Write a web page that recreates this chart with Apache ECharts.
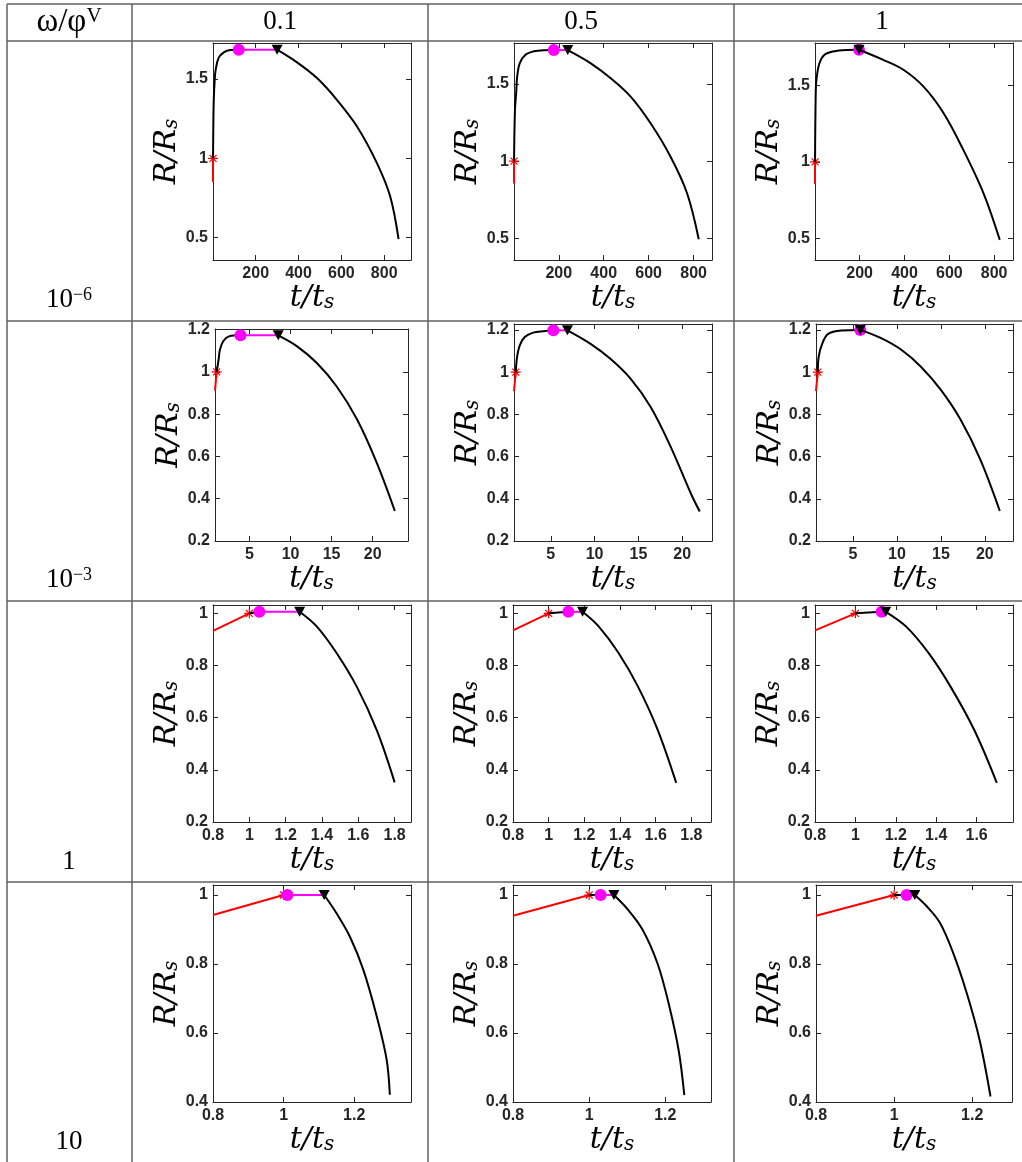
<!DOCTYPE html>
<html lang="en">
<head>
<meta charset="UTF-8" />
<title>R/Rs vs t/ts</title>
<script src="https://cdn.jsdelivr.net/npm/echarts@6/dist/echarts.min.js"></script>
<style>html,body{margin:0;padding:0;background:#fff;}</style>
</head>
<body>
<div id="main" style="width:1022px;height:1162px;"></div>
<script>
// table heads
var colHeads = ['0.1', '0.5', '1'];
var rowBase = ['10', '10', '1', '10'];
var rowExp = ['−6', '−3', '', ''];

// axis ranges, one entry per panel (row by row)
var xMax = [925, 882, 884, 24.3, 23.4, 23.2, 1.89, 1.91, 1.78, 1.361, 1.32, 1.302];
var yMin = [0.359, 0.359, 0.358, 0.2, 0.2, 0.2, 0.2, 0.2, 0.2, 0.4, 0.4, 0.4];
var yMax = [1.727, 1.766, 1.778, 1.203, 1.228, 1.228, 1.032, 1.032, 1.032, 1.029, 1.029, 1.029];
// tick values per row
var xTicks = [[200, 400, 600, 800], [5, 10, 15, 20], [0.8, 1, 1.2, 1.4, 1.6, 1.8], [0.8, 1, 1.2]];
var yTicks = [[0.5, 1, 1.5], [0.2, 0.4, 0.6, 0.8, 1, 1.2], [0.2, 0.4, 0.6, 0.8, 1], [0.4, 0.6, 0.8, 1]];

// red branch: start point, ends at the star (1, 1)
var redStart = [[0.8, 0.85], [0.8, 0.855], [0.8, 0.855], [0.8, 0.912], [0.8, 0.91], [0.8, 0.91],
  [0.8, 0.933], [0.8, 0.935], [0.8, 0.935], [0.8, 0.942], [0.8, 0.94], [0.8, 0.94]];
// magenta circle and black triangle
var circlePts = [[121, 1.685], [178, 1.72], [197, 1.734], [3.9, 1.173], [5.29, 1.198], [5.83, 1.2],
  [1.055, 1.006], [1.11, 1.006], [1.13, 1.006], [1.011, 1.0], [1.03, 1.0], [1.032, 1.0]];
var trianglePts = [[300, 1.685], [240, 1.72], [197, 1.734], [8.5, 1.173], [6.9, 1.198], [5.83, 1.2],
  [1.277, 1.006], [1.19, 1.006], [1.15, 1.006], [1.115, 1.0], [1.065, 1.0], [1.053, 1.0]];

// black branch before the circle
var rise11 = [[1, 1], [4, 1.35], [8.7, 1.496], [13.4, 1.559], [27, 1.633], [51, 1.668], [82, 1.683], [121, 1.685]];
var rise12 = [[1, 1], [5, 1.33], [10.5, 1.442], [15, 1.549], [26.6, 1.636], [52, 1.69], [89, 1.712], [133, 1.719], [178, 1.72]];
var rise13 = [[1, 1], [4.4, 1.472], [8.9, 1.559], [21, 1.647], [43, 1.701], [80.5, 1.723], [140, 1.733], [197, 1.734]];
var rise21 = [[1, 1], [1.24, 1.058], [1.4, 1.105], [1.8, 1.145], [2.5, 1.168], [3.9, 1.173]];
var rise22 = [[1, 1], [1.15, 1.071], [1.46, 1.127], [2.03, 1.166], [2.99, 1.187], [4.14, 1.194], [5.29, 1.198]];
var rise23 = [[1, 1], [1.11, 1.074], [1.53, 1.137], [2.18, 1.181], [3.68, 1.197], [5.83, 1.2]];
var rise31 = [[1, 1], [1.055, 1.006]];
var rise32 = [[1, 1], [1.11, 1.006]];
var rise33 = [[1, 1], [1.13, 1.006]];
var rise41 = [[1, 1], [1.011, 1.0]];
var rise42 = [[1, 1], [1.03, 1.0]];
var rise43 = [[1, 1], [1.032, 1.0]];

// black branch after the triangle
var fall11 = [[300, 1.685], [393, 1.605], [486, 1.506], [579, 1.369], [673, 1.201], [766, 0.97], [828, 0.759], [867, 0.49]];
var fall12 = [[240, 1.72], [341, 1.636], [430, 1.539], [519, 1.42], [608, 1.247], [697, 1.03], [771, 0.792], [823, 0.494]];
var fall13 = [[197, 1.734], [305, 1.668], [395, 1.603], [484, 1.494], [574, 1.32], [663, 1.077], [753, 0.793], [825, 0.49]];
var fall21 = [[8.5, 1.173], [10.8, 1.121], [13.2, 1.042], [15.6, 0.932], [18.1, 0.775], [20.5, 0.57], [22.7, 0.342]];
var fall22 = [[6.9, 1.198], [9.5, 1.135], [11.8, 1.063], [14.1, 0.969], [16.4, 0.835], [18.7, 0.645], [21, 0.424], [22, 0.34]];
var fall23 = [[5.83, 1.2], [8.2, 1.161], [10.5, 1.106], [12.7, 1.027], [15, 0.916], [17.25, 0.774], [19.5, 0.584], [21.7, 0.342]];
var fall31 = [[1.277, 1.006], [1.372, 0.949], [1.482, 0.846], [1.592, 0.718], [1.702, 0.551], [1.8, 0.352]];
var fall32 = [[1.19, 1.006], [1.28, 0.95], [1.39, 0.85], [1.5, 0.72], [1.61, 0.555], [1.715, 0.35]];
var fall33 = [[1.15, 1.006], [1.25, 0.95], [1.36, 0.85], [1.47, 0.72], [1.59, 0.55], [1.7, 0.35]];
var fall41 = [[1.115, 1.0], [1.15, 0.947], [1.188, 0.879], [1.226, 0.783], [1.264, 0.648], [1.292, 0.523], [1.301, 0.421]];
var fall42 = [[1.065, 1.0], [1.1, 0.96], [1.14, 0.9], [1.18, 0.8], [1.21, 0.68], [1.235, 0.55], [1.25, 0.42]];
var fall43 = [[1.053, 1.0], [1.083, 0.968], [1.117, 0.92], [1.151, 0.833], [1.186, 0.716], [1.219, 0.58], [1.247, 0.416]];

var rises = [rise11, rise12, rise13, rise21, rise22, rise23, rise31, rise32, rise33, rise41, rise42, rise43];
var falls = [fall11, fall12, fall13, fall21, fall22, fall23, fall31, fall32, fall33, fall41, fall42, fall43];

// plot boxes in px: left, top, width, height
var boxes = [
  [213, 43, 198, 217], [514, 43, 198, 217], [815, 43, 198, 217],
  [215, 329, 193, 212], [514, 324, 198, 217], [816, 324, 197, 217],
  [213, 605, 198, 217], [513, 605, 198, 217], [815, 605, 198, 217],
  [213, 885, 198, 217], [513, 885, 198, 217], [816, 885, 196, 217]
];

var myChart = echarts.init(document.getElementById('main'));

var axisColor = '#262626';
var mathRich = {
  i: { fontFamily: 'DejaVu Serif', fontStyle: 'italic', fontSize: 30, color: '#000' },
  s: { fontFamily: 'DejaVu Serif', fontStyle: 'italic', fontSize: 20, color: '#000', verticalAlign: 'bottom' }
};
var star = 'path://M0,-10L0,10M-10,0L10,0M-7,-7L7,7M-7,7L7,-7';

var grids = [], xAxes = [], yAxes = [], series = [];

function inRange(v, lo, hi) { return v >= lo - 1e-9 && v <= hi + 1e-9; }

for (var i = 0; i < 12; i++) {
  var row = Math.floor(i / 3);
  var b = boxes[i];
  grids.push({ left: b[0], top: b[1], width: b[2], height: b[3] });
  var xt = xTicks[row].filter(function (v) { return inRange(v, 0.8, xMax[i]); });
  var yt = yTicks[row];
  [0, 1].forEach(function (k) {
    xAxes.push({
      type: 'value', gridIndex: i, position: k ? 'top' : 'bottom', min: 0.8, max: xMax[i],
      axisLine: { show: true, onZero: false, lineStyle: { color: axisColor, width: 1 } },
      axisTick: { show: true, inside: true, length: 5, customValues: xt, lineStyle: { color: axisColor } },
      axisLabel: { show: !k, customValues: xt, margin: 6, fontFamily: 'Liberation Sans', fontWeight: 'bold', fontSize: 16, color: axisColor },
      splitLine: { show: false },
      name: k ? '' : '{i|t/t}{s|s}', nameLocation: 'middle', nameGap: 14,
      nameTextStyle: { rich: mathRich }
    });
    yAxes.push({
      type: 'value', gridIndex: i, position: k ? 'right' : 'left', min: yMin[i], max: yMax[i],
      axisLine: { show: true, onZero: false, lineStyle: { color: axisColor, width: 1 } },
      axisTick: { show: true, inside: true, length: 5, customValues: yt, lineStyle: { color: axisColor } },
      axisLabel: { show: !k, customValues: yt, margin: 5, fontFamily: 'Liberation Sans', fontWeight: 'bold', fontSize: 16, color: axisColor },
      splitLine: { show: false },
      name: k ? '' : '{i|R/R}{s|s}', nameLocation: 'middle', nameGap: 30, nameRotate: 90,
      nameTextStyle: { rich: mathRich }
    });
  });
  var xi = 2 * i, yi = 2 * i;
  function line(data, color, z) {
    return { type: 'line', xAxisIndex: xi, yAxisIndex: yi, data: data, showSymbol: false, smooth: 0.35,
      lineStyle: { color: color, width: 2 }, z: z, silent: true };
  }
  function mark(pt, symbol, size, color, rot, z, extra) {
    return { type: 'scatter', xAxisIndex: xi, yAxisIndex: yi, data: [pt], symbol: symbol, symbolSize: size,
      symbolRotate: rot, clip: false, z: z, silent: true,
      itemStyle: Object.assign({ color: color, opacity: 1 }, extra || {}) };
  }
  series.push(line([redStart[i], [1, 1]], '#ff0000', 2));
  series.push(mark([1, 1], star, 10, '#ff0000', 0, 3, { borderColor: '#ff0000', borderWidth: 1.2 }));
  series.push(line(rises[i], '#000000', 4));
  series.push(line([circlePts[i], trianglePts[i]], '#ff00ff', 5));
  series.push(mark(circlePts[i], 'circle', 12, '#ff00ff', 0, 6));
  series.push(line(falls[i], '#000000', 7));
  series.push(mark(trianglePts[i], 'triangle', [11, 10], '#000000', 180, 8));
}

// table grid and heads
var lineColor = '#606060';
var graphics = [];
function seg(x1, y1, x2, y2) {
  graphics.push({ type: 'line', shape: { x1: x1, y1: y1, x2: x2, y2: y2 }, style: { stroke: lineColor, lineWidth: 1.5 }, silent: true });
}
[7, 132, 428, 734].forEach(function (x) { seg(x, 4, x, 1162); });
[4, 41, 321, 601, 882].forEach(function (y) { seg(7, y, 1022, y); });

var headRich = {
  n: { fontFamily: 'Liberation Serif', fontSize: 27, color: '#000' },
  g: { fontFamily: 'Liberation Serif', fontSize: 33, color: '#000' },
  e: { fontFamily: 'Liberation Serif', fontSize: 18, color: '#000', verticalAlign: 'top' },
  v: { fontFamily: 'Liberation Serif', fontSize: 21, color: '#000', verticalAlign: 'top' }
};
function headText(x, y, str) {
  graphics.push({ type: 'text', x: x, y: y, silent: true,
    style: { text: str, rich: headRich, align: 'center', verticalAlign: 'middle' } });
}
headText(69, 22, '{g|ω/φ}{v|V}');
[280, 581, 882].forEach(function (x, k) { headText(x, 22, '{n|' + colHeads[k] + '}'); });
[300, 580, 862, 1142].forEach(function (y, k) {
  headText(69, y, '{n|' + rowBase[k] + '}' + (rowExp[k] ? '{e|' + rowExp[k] + '}' : ''));
});

myChart.setOption({
  animation: false,
  backgroundColor: '#ffffff',
  grid: grids,
  xAxis: xAxes,
  yAxis: yAxes,
  series: series,
  graphic: graphics
});
</script>
</body>
</html>
